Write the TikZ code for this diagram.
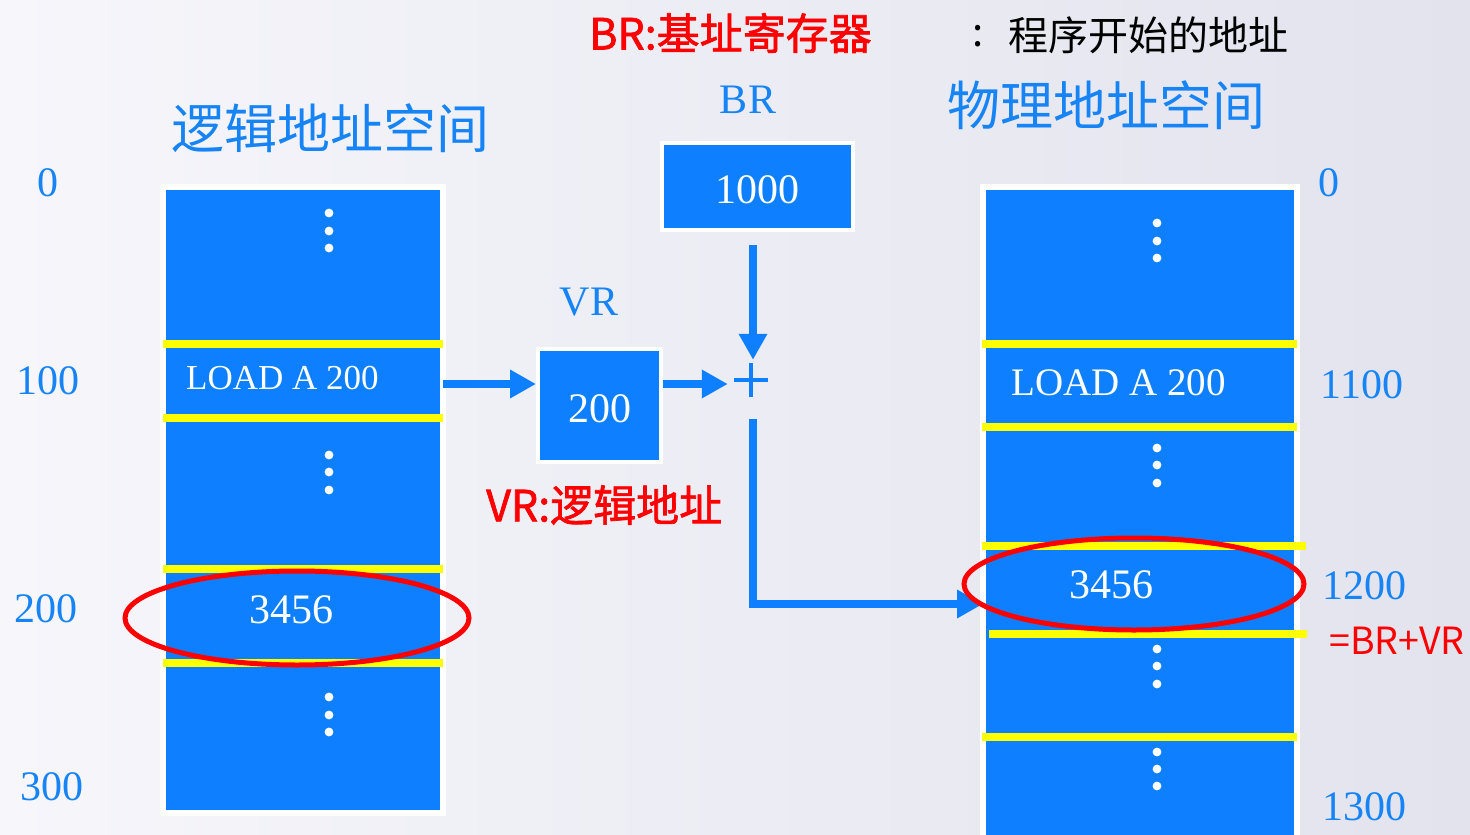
\documentclass[tikz,border=0pt]{standalone}
\usepackage{fontspec}
\setmainfont{Liberation Serif}
\newfontfamily\cjk{Noto Sans CJK SC}
\newfontfamily\cjkbold{Noto Sans CJK SC}[FakeBold=1.6]
\usetikzlibrary{arrows.meta}
\definecolor{memblue}{RGB}{14,128,255}
\definecolor{txtblue}{RGB}{22,132,245}
\definecolor{yel}{RGB}{255,255,0}
\definecolor{ringred}{RGB}{255,0,0}
\definecolor{bgA}{RGB}{246,246,251}
\definecolor{bgB}{RGB}{226,227,237}
\begin{document}
\begin{tikzpicture}[x=1pt,y=-1pt,
  memcol/.style={draw=white, line width=6pt, fill=memblue, inner sep=0pt, outer sep=0pt},
  regbox/.style={draw=white, line width=4pt, fill=memblue, inner sep=0pt, text=white, font=\fontsize{42}{48}\selectfont},
  celltxt/.style={text=white, inner sep=0pt, font=\fontsize{42}{48}\selectfont},
  loadL/.style={text=white, inner sep=0pt, anchor=west, font=\fontsize{35}{40}\selectfont},
  loadR/.style={text=white, inner sep=0pt, anchor=west, font=\fontsize{39}{44}\selectfont},
  num/.style={text=txtblue, inner sep=0pt, font=\fontsize{42}{48}\selectfont},
  title/.style={text=txtblue, inner sep=0pt, font=\cjk\fontsize{53}{60}\selectfont},
  redcn/.style={text=ringred, inner sep=0pt, font=\cjkbold\fontsize{43}{50}\selectfont},
  blackcn/.style={text=black, inner sep=0pt, font=\cjk\fontsize{40}{46}\selectfont},
  sep/.style={draw=yel, line width=8pt},
  ring/.style={draw=ringred, line width=5pt},
  flow/.style={draw=memblue, line width=8pt, -{Triangle[length=26pt,width=27pt]}},
  plusbar/.style={draw=memblue, line width=4.5pt},
  vdot/.style={fill=white}
]
\useasboundingbox (0,0) rectangle (1470,835);
\clip (0,0) rectangle (1470,835);
\fill[left color=bgA, right color=bgB] (0,0) rectangle (1470,835);

% ---------- titles ----------
\node[redcn, anchor=west] (brdef) at (589,33) {BR:基址寄存器};
\node[blackcn] (colon) at (978,36) {:};
\node[blackcn, anchor=west] (brmean) at (1008,35) {程序开始的地址};
\node[title] (ltitle) at (330,128) {逻辑地址空间};
\node[title] (rtitle) at (1106,105) {物理地址空间};

% ---------- left column (logical) ----------
\node[memcol, minimum width=280pt, minimum height=626pt] (lcol) at (303,500) {};
\draw[sep] (163,344) -- (443,344);
\draw[sep] (163,418) -- (443,418);
\draw[sep] (163,569) -- (443,569);
\draw[sep] (163,663) -- (443,663);
\foreach \y in {213,231,248, 455,472,490, 697,715,732}
  \fill[vdot] (329,\y) circle (4.4);
\node[loadL] (lload) at (186,378) {LOAD A 200};
\node[celltxt] (lval) at (291,610) {3456};

\node[num] (l0) at (48,183) {0};
\node[num] (l100) at (48,381) {100};
\node[num] (l200) at (46,609) {200};
\node[num] (l300) at (52,787) {300};

% ---------- registers ----------
\node[num] (brlab) at (748,100) {BR};
\node[regbox, minimum width=191pt, minimum height=87pt] (br) at (757.5,186.5) {\raisebox{-3pt}[\height][0pt]{1000}};
\node[num] (vrlab) at (589,302) {VR};
\node[regbox, minimum width=123pt, minimum height=113pt] (vr) at (599.5,405.5) {\raisebox{-3pt}[\height][0pt]{200}};
\node[redcn, anchor=west] (vrdef) at (486,505) {VR:逻辑地址};

\node[minimum width=50pt, minimum height=40pt, inner sep=0pt] (plus) at (753,380) {};
\draw[plusbar] ([xshift=-19pt]plus.center) -- ([xshift=15pt]plus.center);
\draw[plusbar] ([xshift=-2pt,yshift=17pt]plus.center) -- ([xshift=-2pt,yshift=-17pt]plus.center);

% ---------- right column (physical) ----------
\node[memcol, minimum width=314pt, minimum height=673pt] (rcol) at (1140,523.5) {};
\draw[sep] (982,344) -- (1297,344);
\draw[sep] (982,427) -- (1297,427);
\draw[sep] (982,546) -- (1306,546);
\draw[sep] (989,634) -- (1307,634);
\draw[sep] (982,737) -- (1297,737);
\foreach \y in {223,241,258, 448,465,483, 649,666,684, 752,769,786}
  \fill[vdot] (1157,\y) circle (4.4);
\node[loadR] (rload) at (1011,383) {LOAD A 200};
\node[celltxt] (rval) at (1111,585) {3456};

\node[num] (r0) at (1329,183) {0};
\node[num] (r1100) at (1362,385) {1100};
\node[num] (r1200) at (1364,586) {1200};
\node[num] (r1300) at (1364,807) {1300};
\node[text=ringred, inner sep=0pt, font=\cjk\fontsize{37.5}{44}\selectfont, anchor=west] (sum) at (1329,641) {=BR+VR};

% ---------- connectors ----------
\coordinate (arow) at (0,384);
\coordinate (hit) at (0,604);
\coordinate (brout) at ([yshift=-13pt]br.south);
\coordinate (plusout) at ([yshift=-19pt]plus.south);
\draw[flow] (lcol.east |- arow) -- (vr.west |- arow);
\draw[flow] (vr.east |- arow) -- (plus.west |- arow);
\draw[flow] (brout -| plus.north) -- (plus.north);
\draw[flow] (plusout) |- (rcol.west |- hit);

% ---------- highlight rings ----------
\draw[ring] (297,618) ellipse [x radius=172, y radius=47];
\draw[ring] (1134,584) ellipse [x radius=170, y radius=46];
\end{tikzpicture}
\end{document}
